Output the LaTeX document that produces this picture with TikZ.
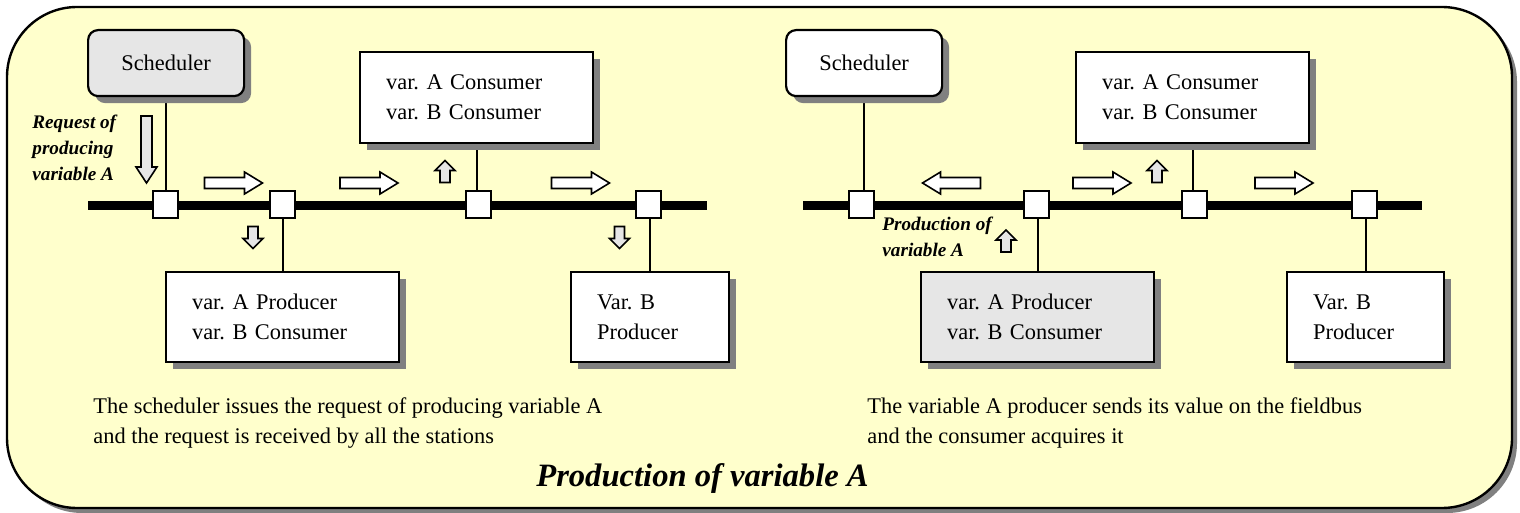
\documentclass[tikz,border=0pt]{standalone}
\usepackage{fontspec}
\setmainfont{Liberation Serif}
\usetikzlibrary{shadows}
\definecolor{paper}{HTML}{FFFFCC}
\definecolor{boxgrey}{HTML}{E6E6E6}
\definecolor{shade}{HTML}{808080}
\pgfdeclarelayer{back}
\pgfsetlayers{back,main}
\frenchspacing
\begin{document}
\begin{tikzpicture}[x=0.5pt,y=-0.5pt,
    shade/.style={drop shadow={shadow xshift=3.5pt,shadow yshift=-3.5pt,opacity=1,fill=shade}},
    unit/.style={draw,line width=1.1pt,fill=white,shade,anchor=north west,align=left,
        inner xsep=13pt,minimum height=45pt,font=\fontsize{11.2}{15}\selectfont},
    sched/.style={draw,line width=1.1pt,rounded corners=5pt,shade,anchor=north west,
        minimum width=78pt,minimum height=33pt,font=\fontsize{11.2}{15}\selectfont},
    station/.style={draw,line width=1pt,fill=white,minimum width=12.5pt,minimum height=13.5pt,inner sep=0pt},
    bus/.style={line width=4.5pt},
    tap/.style={line width=0.9pt},
    note/.style={anchor=west,align=left,inner sep=0pt,font=\fontsize{11.2}{15}\selectfont},
    tag/.style={anchor=west,align=left,inner sep=0pt,font=\fontsize{9.6}{13}\selectfont\bfseries\itshape},
    rarrow/.pic={\draw[line width=0.8pt,fill=white] (-29,-5.5) -- (11,-5.5) -- (11,-11) -- (29,0)
        -- (11,11) -- (11,5.5) -- (-29,5.5) -- cycle;},
    uarrow/.pic={\draw[line width=0.8pt,fill=boxgrey] (-5,11) -- (-5,-1) -- (-10,-1) -- (0,-11)
        -- (10,-1) -- (5,-1) -- (5,11) -- cycle;}]
\useasboundingbox (0,0) rectangle (1520,513);

% frame
\begin{pgfonlayer}{back}
\draw[line width=1.2pt,fill=paper,rounded corners=35pt,
    drop shadow={shadow xshift=2.5pt,shadow yshift=-2.5pt,opacity=1,fill=shade}] (7,7) rectangle (1512,508);
\end{pgfonlayer}

% left: request
\coordinate (busLa) at (88,206);
\coordinate (busLb) at (707,206);
\draw[bus] (busLa) -- (busLb);
\node[station] (sqL1) at (165.5,204.5) {};
\node[station] (sqL2) at (282,204.5) {};
\node[station] (sqL3) at (478.5,204.5) {};
\node[station] (sqL4) at (648,204.5) {};

\node[sched,fill=boxgrey] (schL) at (87,29) {Scheduler};
\node[unit,text width=90.5pt,minimum height=45.5pt] (consL) at (359,51) {var. A Consumer\\var. B Consumer};
\node[unit,text width=90.5pt] (prodAL) at (165,271) {var. A Producer\\var. B Consumer};
\node[unit,text width=53pt] (prodBL) at (570,271) {Var. B\\Producer};

\begin{pgfonlayer}{back}
\draw[tap] (schL.south) -- (schL.south |- sqL1.north);
\draw[tap] (prodAL.north) -- (prodAL.north |- sqL2.south);
\draw[tap] (consL.south) -- (consL.south |- sqL3.north);
\draw[tap] (prodBL.north) -- (prodBL.north |- sqL4.south);
\end{pgfonlayer}

\draw[line width=0.8pt,fill=boxgrey] (141,116) -- (141,167) -- (136,167) -- (146.5,183)
    -- (157,167) -- (152,167) -- (152,116) -- cycle;
\node[tag] (reqtag) at (32,147.5) {Request of\\producing\\variable A};
\pic at (233.5,183) {rarrow};
\pic at (369,183) {rarrow};
\pic at (580.5,183) {rarrow};
\pic[rotate=180] at (253,237.5) {uarrow};
\pic[rotate=180] at (619.5,237.5) {uarrow};
\pic at (445,171.5) {uarrow};
\node[note] (noteL) at (93,423) {The scheduler issues the request of producing variable A\\and the request is received by all the stations};

% right: production
\coordinate (busRa) at (803,206);
\coordinate (busRb) at (1422,206);
\draw[bus] (busRa) -- (busRb);
\node[station] (sqR1) at (861,204.5) {};
\node[station] (sqR2) at (1036.5,204.5) {};
\node[station] (sqR3) at (1194,204.5) {};
\node[station] (sqR4) at (1364,204.5) {};

\node[sched,fill=white] (schR) at (785,29) {Scheduler};
\node[unit,text width=90.5pt,minimum height=45.5pt] (consR) at (1075,51) {var. A Consumer\\var. B Consumer};
\node[unit,text width=90.5pt,fill=boxgrey] (prodAR) at (920,271) {var. A Producer\\var. B Consumer};
\node[unit,text width=52.5pt] (prodBR) at (1286,271) {Var. B\\Producer};

\begin{pgfonlayer}{back}
\draw[tap] (schR.south) -- (schR.south |- sqR1.north);
\draw[tap] (prodAR.north) -- (prodAR.north |- sqR2.south);
\draw[tap] (consR.south) -- (consR.south |- sqR3.north);
\draw[tap] (prodBR.north) -- (prodBR.north |- sqR4.south);
\end{pgfonlayer}

\pic[rotate=180] at (951.5,183) {rarrow};
\pic at (1102,183) {rarrow};
\pic at (1284,183) {rarrow};
\pic at (1157,171.5) {uarrow};
\pic at (1006,241) {uarrow};
\node[tag] (prodtag) at (882,236.5) {Production of\\variable A};
\node[note] (noteR) at (867,423) {The variable A producer sends its value on the fieldbus\\and the consumer acquires it};

\node[font=\fontsize{16.3}{20}\selectfont\bfseries\itshape] (title) at (702.5,478) {Production of variable A};
\end{tikzpicture}
\end{document}
